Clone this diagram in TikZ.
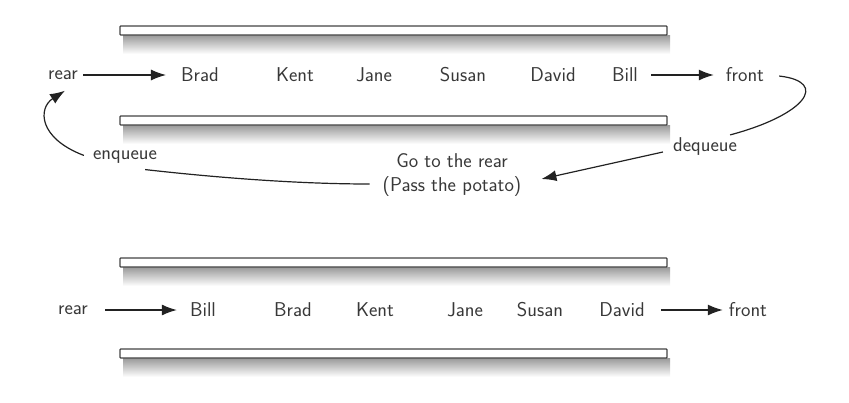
\documentclass[tikz,border=0pt]{standalone}
\usetikzlibrary{arrows.meta}
\definecolor{txt}{HTML}{383838}
\definecolor{ln}{HTML}{222222}
\begin{document}
\begin{tikzpicture}[x=1pt,y=-1pt,
  lbl/.style={font=\sffamily\fontsize{20}{24}\selectfont, text=txt, inner sep=1pt},
  conn/.style={draw=ln, line width=1.2pt},
  arr/.style={conn, -{Latex[length=15pt,width=11pt]}},
  bar/.style={draw=ln!85, line width=1.2pt, fill=white, rounded corners=0.8pt},
]
\useasboundingbox (0,0) rectangle (849,402);
% bars with shadows
\foreach \ya/\yb in {26/35, 116/125, 258/267, 349/358}{
  \shade[top color=black!40, bottom color=white] (123,\yb) rectangle (670,\yb+19);
  \path[bar] (120,\ya) rectangle (667,\yb);
}
% row 1
\node[lbl] (r1) at (63,75) {rear};
\node[lbl] (b1) at (200,75) {Brad};
\node[lbl] (k1) at (295,75) {Kent};
\node[lbl] (j1) at (374,75) {Jane};
\node[lbl] (s1) at (463,75) {Susan};
\node[lbl] (d1) at (553,75) {David};
\node[lbl] (bl1) at (625,75) {Bill};
\node[lbl] (f1) at (745,75) {front};
\draw[arr] ([xshift=4pt]r1.east) -- ([xshift=-14pt]b1.west);
\draw[arr] ([xshift=12pt]bl1.east) -- ([xshift=-11pt]f1.west);
% middle labels
\node[lbl] (enq) at (125,157) {enqueue};
\node[lbl] (deq) at (705,147) {dequeue};
\node[lbl, align=center] (go) at (452,175) {Go to the rear\\(Pass the potato)};
\draw[conn] ([xshift=14pt,yshift=-1pt]f1.east) .. controls (830,82) and (805,115) .. ([xshift=-8pt,yshift=2pt]deq.north east);
\draw[arr] ([xshift=-9pt,yshift=-5pt]deq.west) -- ([xshift=19pt,yshift=-4pt]go.east);
\draw[conn] ([xshift=-12pt,yshift=-9pt]go.west) .. controls (300,184) and (220,178) .. ([xshift=-13pt,yshift=-5pt]enq.south east);
\draw[arr] ([xshift=-8pt,yshift=-6pt]enq.north west) .. controls (38,138) and (38,108) .. ([xshift=2pt,yshift=-10pt]r1.south);
% row 2
\node[lbl] (r2) at (73,310) {rear};
\node[lbl] (b2) at (203,310) {Bill};
\node[lbl] (br2) at (293,310) {Brad};
\node[lbl] (k2) at (375,310) {Kent};
\node[lbl] (j2) at (465,310) {Jane};
\node[lbl] (s2) at (540,310) {Susan};
\node[lbl] (d2) at (622,310) {David};
\node[lbl] (f2) at (748,310) {front};
\draw[arr] ([xshift=16pt]r2.east) -- ([xshift=-12pt]b2.west);
\draw[arr] ([xshift=15pt]d2.east) -- ([xshift=-5pt]f2.west);
\end{tikzpicture}
\end{document}
